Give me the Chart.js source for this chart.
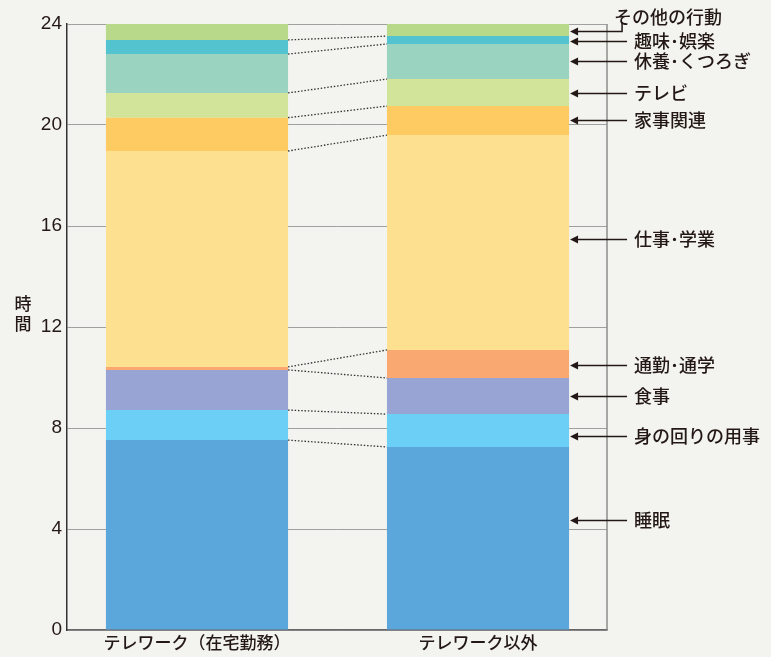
<!DOCTYPE html>
<html lang="ja">
<head>
<meta charset="utf-8">
<title>テレワーク有無別 生活時間</title>
<script src="https://cdn.jsdelivr.net/npm/chart.js@4.4.1/dist/chart.umd.min.js"></script>
<style>
  html, body { margin: 0; padding: 0; background: #f3f4ef; }
  canvas { display: block; }
</style>
</head>
<body>
<canvas id="timeChart" width="771" height="657"></canvas>
<script>
// 区分
const categories = ['テレワーク（在宅勤務）', 'テレワーク以外'];

// 行動の種類（下から順）
const activities = ['睡眠', '身の回りの用事', '食事', '通勤･通学', '仕事･学業',
  '家事関連', 'テレビ', '休養･くつろぎ', '趣味･娯楽', 'その他の行動'];

// 時間（時間単位）
const teleworkHours = [7.52, 1.19, 1.59, 0.12, 8.55, 1.32, 0.98, 1.54, 0.56, 0.63];
const otherHours    = [7.25, 1.30, 1.43, 1.11, 8.51, 1.15, 1.07, 1.39, 0.31, 0.48];

// 目盛り
const yTicks = [0, 4, 8, 12, 16, 20, 24];

// 注釈の矢印の位置（時間）
const arrowAt = [4.36, 7.68, 9.27, 10.5, 15.49, 20.2, 21.27, 22.53, 23.33, 23.72];

const colors = ['#5ba7db', '#6ccff5', '#98a5d4', '#f8a870', '#fee190',
  '#fecb62', '#d2e39a', '#9ad4c0', '#52c3cf', '#b9d98a'];

const FONT = '"Noto Sans CJK JP", "Noto Sans", sans-serif';
const TEXT = '#231815';

// 背景
const bgPlugin = {
  id: 'bg',
  beforeDraw(chart) {
    const ctx = chart.ctx;
    ctx.save();
    ctx.fillStyle = '#f3f4ef';
    ctx.fillRect(0, 0, chart.width, chart.height);
    ctx.restore();
  }
};

// 枠線・点線・注釈
const decoPlugin = {
  id: 'deco',
  afterDatasetsDraw(chart) {
    const ctx = chart.ctx;
    const area = chart.chartArea;
    const yScale = chart.scales.y;
    ctx.save();

    // 右枠
    ctx.strokeStyle = '#8c8c8c';
    ctx.lineWidth = 1.5;
    ctx.beginPath();
    ctx.moveTo(area.right, area.top);
    ctx.lineTo(area.right, area.bottom);
    ctx.stroke();

    // 区切りの点線
    ctx.strokeStyle = '#333';
    ctx.lineWidth = 1.3;
    ctx.setLineDash([1.5, 1.8]);
    for (let i = 0; i < activities.length - 1; i++) {
      const bars = chart.getDatasetMeta(i).data;
      const a = bars[0], b = bars[1];
      ctx.beginPath();
      ctx.moveTo(a.x + a.width / 2, a.y);
      ctx.lineTo(b.x - b.width / 2, b.y);
      ctx.stroke();
    }
    ctx.setLineDash([]);

    // 注釈
    ctx.strokeStyle = '#231815';
    ctx.fillStyle = TEXT;
    ctx.lineWidth = 1.5;
    ctx.font = '500 18px ' + FONT;
    ctx.textBaseline = 'middle';
    activities.forEach((name, i) => {
      const bar = chart.getDatasetMeta(i).data[1];
      const x0 = bar.x + bar.width / 2 + 1;
      const y = Math.round(yScale.getPixelForValue(arrowAt[i])) + 0.5;
      const last = i === activities.length - 1;
      const x1 = last ? x0 + 52 : x0 + 57;
      ctx.beginPath();
      ctx.moveTo(x0 + 6, y);
      ctx.lineTo(x1, y);
      if (last) ctx.lineTo(x1, y - 9);
      ctx.stroke();
      ctx.beginPath();
      ctx.moveTo(x0, y);
      ctx.lineTo(x0 + 8, y - 4);
      ctx.lineTo(x0 + 8, y + 4);
      ctx.closePath();
      ctx.fill();
      if (last) {
        ctx.fillText(name, x1 - 8, y - 14);
      } else {
        ctx.fillText(name, x1 + 7, y);
      }
    });

    // 縦書きの軸タイトル
    ctx.textAlign = 'center';
    ctx.font = '500 17px ' + FONT;
    ctx.fillText('時', 23, 304);
    ctx.fillText('間', 23, 324);
    ctx.restore();
  }
};

const datasets = activities.map((name, i) => ({
  label: name,
  data: [
    { x: 0, y: teleworkHours[i] },
    { x: 1, y: otherHours[i] }
  ],
  backgroundColor: colors[i],
  borderWidth: 0,
  barPercentage: 0.8,
  categoryPercentage: 0.81
}));

const ctx = document.getElementById('timeChart').getContext('2d');
new Chart(ctx, {
  type: 'bar',
  data: { datasets: datasets },
  options: {
    responsive: false,
    animation: false,
    layout: { padding: { top: 24, right: 164, left: 0, bottom: 0 } },
    plugins: {
      legend: { display: false },
      tooltip: { enabled: false },
      title: { display: false }
    },
    scales: {
      x: {
        type: 'linear',
        stacked: true,
        offset: false,
        min: -0.4626,
        max: 1.459,
        afterBuildTicks(s) { s.ticks = categories.map((_, i) => ({ value: i })); },
        afterFit(s) { s.height = 27; },
        grid: { display: false, drawTicks: false },
        border: { color: '#666', width: 1.5 },
        ticks: {
          padding: 2,
          color: TEXT,
          font: { family: FONT, size: 17, weight: '500' },
          maxRotation: 0,
          autoSkip: false,
          callback: v => categories[v]
        }
      },
      y: {
        stacked: true,
        min: 0,
        max: 24,
        afterBuildTicks(s) { s.ticks = yTicks.map(v => ({ value: v })); },
        afterFit(s) { s.width = 67; },
        grid: { color: '#a0a0a0', lineWidth: 1, drawTicks: false },
        border: { color: '#333', width: 1.5 },
        ticks: {
          padding: 5,
          color: TEXT,
          font: { family: '"Liberation Sans", Arial, sans-serif', size: 19 }
        }
      }
    }
  },
  plugins: [bgPlugin, decoPlugin]
});
</script>
</body>
</html>
